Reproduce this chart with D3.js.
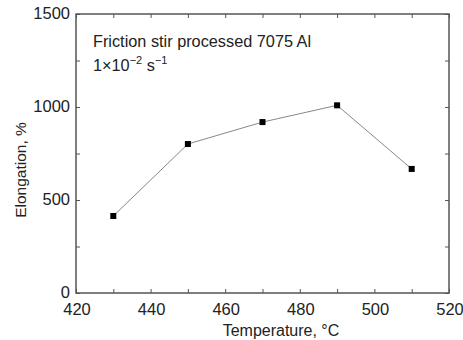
<!DOCTYPE html>
<html>
<head>
<meta charset="UTF-8">
<script src="https://d3js.org/d3.v7.min.js"></script>
<style>
    body { margin: 0; background: #fff; }
    text { font-family: "Liberation Sans", Arial, sans-serif; fill: #222; }
</style>
</head>
<body>
<svg></svg>
<script>
    let width = 463, height = 340;

    // data
    const temperature = [430, 450, 470, 490, 510];
    const elongation = [414, 801, 919, 1009, 667];
    const xTicks = [420, 440, 460, 480, 500, 520];
    const yTicks = [0, 500, 1000, 1500];

    let svg = d3.select("svg").attr("width", width).attr("height", height);

    let plotLeft = 76, plotRight = 449, plotTop = 14, plotBottom = 293;

    let x = d3.scaleLinear().domain([420, 520]).range([plotLeft, plotRight]);
    let y = d3.scaleLinear().domain([0, 1500]).range([plotBottom, plotTop]);

    let frame = "#555";

    // inward ticks on all four sides
    let xMinor = d3.range(420, 521, 10);
    let yMinor = d3.range(0, 1501, 250);

    svg.append("g").attr("transform", "translate(0," + plotBottom + ")")
        .call(d3.axisTop(x).tickValues(xMinor).tickSize(4).tickFormat(""))
        .call(g => g.select(".domain").remove());
    svg.append("g").attr("transform", "translate(0," + plotTop + ")")
        .call(d3.axisBottom(x).tickValues(xMinor).tickSize(4).tickFormat(""))
        .call(g => g.select(".domain").remove());
    svg.append("g").attr("transform", "translate(" + plotLeft + ",0)")
        .call(d3.axisRight(y).tickValues(yMinor).tickSize(4).tickFormat(""))
        .call(g => g.select(".domain").remove());
    svg.append("g").attr("transform", "translate(" + plotRight + ",0)")
        .call(d3.axisLeft(y).tickValues(yMinor).tickSize(4).tickFormat(""))
        .call(g => g.select(".domain").remove());
    svg.selectAll(".tick line").attr("stroke", frame);

    svg.append("rect")
        .attr("x", plotLeft).attr("y", plotTop)
        .attr("width", plotRight - plotLeft).attr("height", plotBottom - plotTop)
        .attr("fill", "none").attr("stroke", frame).attr("stroke-width", 1.5);

    // tick labels
    svg.append("g").selectAll("text").data(xTicks).enter().append("text")
        .attr("x", d => x(d) + 1).attr("y", plotBottom + 22)
        .attr("text-anchor", "middle").style("font-size", "16.5px")
        .text(d => d);
    svg.append("g").selectAll("text").data(yTicks).enter().append("text")
        .attr("x", plotLeft - 6).attr("y", d => y(d) + 5)
        .attr("text-anchor", "end").style("font-size", "16.5px")
        .text(d => d);

    // axis titles
    svg.append("text").attr("x", 281).attr("y", 336)
        .attr("text-anchor", "middle").style("font-size", "16px")
        .text("Temperature, °C");
    svg.append("text").attr("transform", "translate(26,170) rotate(-90)")
        .attr("text-anchor", "middle").style("font-size", "15.5px")
        .text("Elongation, %");

    // annotation
    svg.append("text").attr("x", 93).attr("y", 47).style("font-size", "16.3px")
        .text("Friction stir processed 7075 Al");
    let t = svg.append("text").attr("x", 93).attr("y", 71).style("font-size", "16.3px");
    t.append("tspan").text("1×10");
    t.append("tspan").attr("dy", -7).style("font-size", "11px").text("−2");
    t.append("tspan").attr("dy", 7).text(" s");
    t.append("tspan").attr("dy", -7).style("font-size", "11px").text("−1");

    // line and markers
    let pts = temperature.map((d, i) => [d, elongation[i]]);
    svg.append("path").datum(pts)
        .attr("d", d3.line().x(d => x(d[0])).y(d => y(d[1])))
        .attr("fill", "none").attr("stroke", "#888").attr("stroke-width", 1);
    svg.append("g").selectAll("rect").data(pts).enter().append("rect")
        .attr("x", d => x(d[0]) - 3).attr("y", d => y(d[1]) - 3)
        .attr("width", 6).attr("height", 6).attr("fill", "#000");
</script>
</body>
</html>
